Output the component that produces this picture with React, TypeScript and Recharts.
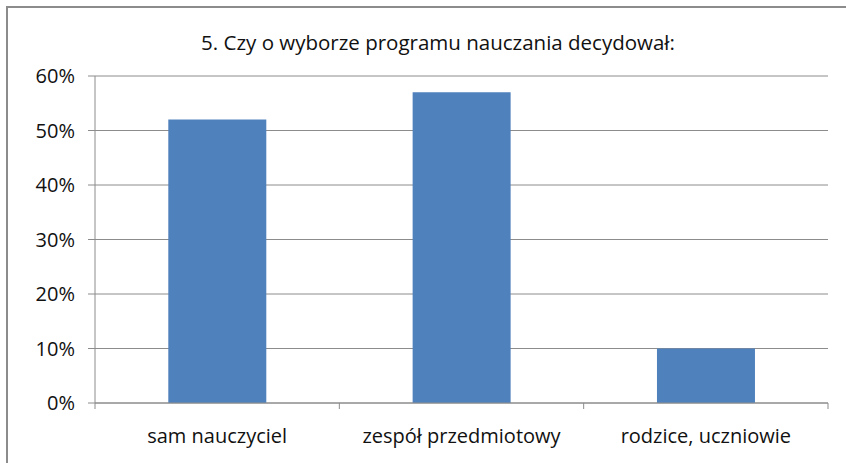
import React from "react";
import { BarChart, Bar, XAxis, YAxis, CartesianGrid } from "recharts";

const categories = ["sam nauczyciel", "zespół przedmiotowy", "rodzice, uczniowie"];
const shares = [0.52, 0.57, 0.1];
const yTicks = [0, 0.1, 0.2, 0.3, 0.4, 0.5, 0.6];
const title = "5. Czy o wyborze programu nauczania decydował:";

const data = categories.map((name, i) => ({ name, value: shares[i] }));

const FONT = "'Open Sans', Lato, sans-serif";
const AXIS = "#8c8c8c";
const LABEL_GAP = 26; // tickSize (6) + tickMargin (20)

// category label plus the small tick marks at the band edges, like Excel draws them
function CategoryTick(props: any) {
  const { x, y, payload, index, visibleTicksCount } = props;
  const half = payload && payload.offset ? payload.offset : 0;
  const axisY = y - LABEL_GAP;
  return (
    <g>
      <line x1={x - half} x2={x - half} y1={axisY} y2={axisY + 6} stroke={AXIS} />
      {index === visibleTicksCount - 1 && (
        <line x1={x + half} x2={x + half} y1={axisY} y2={axisY + 6} stroke={AXIS} />
      )}
      <text x={x} y={y} dy="0.71em" textAnchor="middle" fontFamily={FONT} fontSize={20} fill="#111">
        {payload.value}
      </text>
    </g>
  );
}

export default function App() {
  return (
    <div style={{ position: "relative", width: 846, height: 463, overflow: "hidden", background: "#fff" }}>
      <style>{`body{margin:0}`}</style>
      <div
        style={{
          position: "absolute",
          left: 6,
          top: 6,
          width: 900,
          height: 500,
          borderLeft: "2px solid #8c8c8c",
          borderTop: "2px solid #8c8c8c",
        }}
      />
      <div
        style={{
          position: "absolute",
          top: 28,
          left: 0,
          width: 876,
          textAlign: "center",
          fontFamily: FONT,
          fontSize: 20.5,
          color: "#111",
        }}
      >
        {title}
      </div>
      <div style={{ position: "absolute", left: 0, top: 0 }}>
        <BarChart
          width={846}
          height={463}
          data={data}
          margin={{ top: 76, right: 18, left: 0, bottom: 0 }}
          barCategoryGap="30%"
        >
          <CartesianGrid vertical={false} stroke={AXIS} strokeWidth={1} />
          <XAxis
            dataKey="name"
            height={60}
            axisLine={{ stroke: AXIS }}
            tickLine={false}
            tick={<CategoryTick />}
            tickMargin={20}
            interval={0}
          />
          <YAxis
            width={95}
            domain={[0, 0.6]}
            ticks={yTicks}
            tickFormatter={(v: number) => `${Math.round(v * 100)}%`}
            axisLine={{ stroke: AXIS }}
            tickLine={{ stroke: AXIS }}
            tickSize={7}
            tickMargin={13}
            tick={{ fontFamily: FONT, fontSize: 20, fill: "#111" }}
          />
          <Bar dataKey="value" fill="#4f81bd" isAnimationActive={false} />
        </BarChart>
      </div>
    </div>
  );
}
